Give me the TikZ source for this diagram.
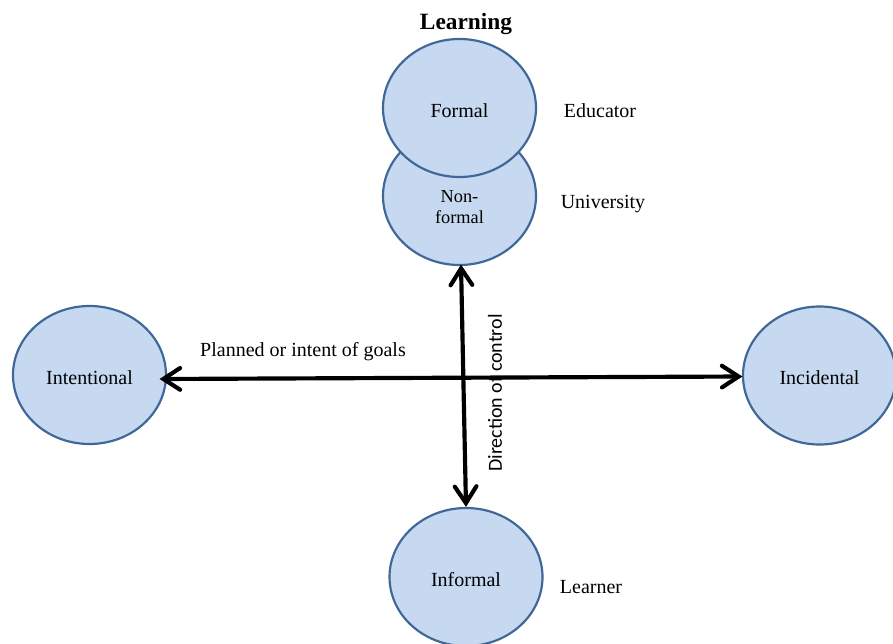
\documentclass[tikz,border=0pt]{standalone}
\usepackage{fontspec}
\setmainfont{Liberation Serif}
\newfontfamily\labelsans{Carlito}
\usetikzlibrary{shapes.geometric,arrows.meta}
\definecolor{bubblefill}{HTML}{C6D9F1}
\definecolor{bubbleline}{HTML}{3F6797}
\begin{document}
\begin{tikzpicture}[x=0.6pt,y=-0.6pt,
  bubble/.style={ellipse,draw=bubbleline,fill=bubblefill,line width=1.3pt,
    minimum width=91.8pt,minimum height=82.8pt,inner sep=0pt,align=center,
    text height=11pt,text depth=0pt,
    font=\fontsize{12}{14}\selectfont},
  side/.style={font=\fontsize{12}{14}\selectfont},
  axis/.style={line width=2.5pt,>={Straight Barb[length=10pt,width=13pt,line cap=round]},<->}]
\useasboundingbox (0,0) rectangle (893,643);
\begin{scope}
\clip (0,0) rectangle (893,643);
% the two stacked bubbles at the top: non-formal lies under formal
\node[bubble] (nonformal) at (459.5,196) {};
\node[align=center,font=\fontsize{11}{12.6}\selectfont] (nonformaltext)
  at ([yshift=-6.6pt]nonformal.center) {Non-\\formal};
\node[bubble] (formal) at (459.5,108) {Formal};
\node[bubble] (intentional) at (89.5,375) {Intentional};
\node[bubble] (incidental) at (819.5,375.5) {Incidental};
\node[bubble] (informal) at (466,577) {Informal};
\end{scope}
% headings and side labels
\node[font=\bfseries\fontsize{14}{16}\selectfont] (title) at (466,24) {Learning};
\node[side] (educator) at (600,111) {Educator};
\node[side] (university) at (603,204) {University};
\node[side] (learner) at (591,587) {Learner};
\node[side] (goals) at (303,352) {Planned or intent of goals};
% the two axes
\draw[axis] ([xshift=-4.5pt,yshift=-2.4pt]intentional.east) -- ([xshift=0.3pt,yshift=-0.6pt]incidental.west);
\draw[axis] ([xshift=0.9pt,yshift=0.9pt]nonformal.south) -- (informal.north);
\node[rotate=90,font=\labelsans\fontsize{12}{14}\selectfont] (control) at (495,393) {Direction of control};
\end{tikzpicture}
\end{document}
